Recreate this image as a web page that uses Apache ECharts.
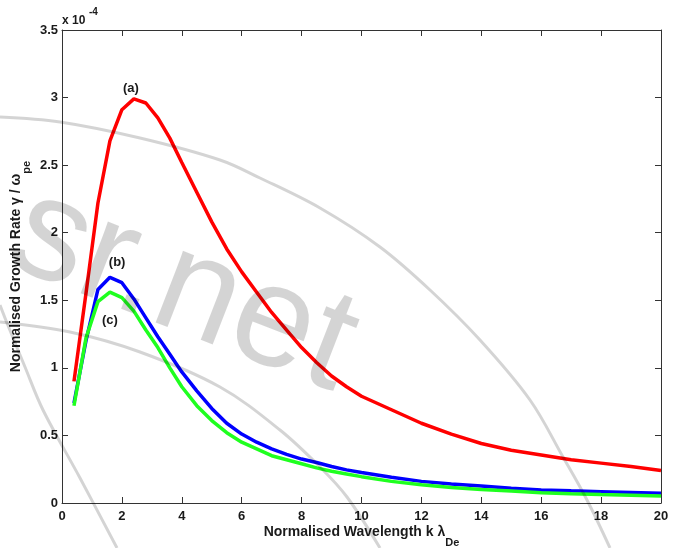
<!DOCTYPE html>
<html>
<head>
<meta charset="utf-8">
<script src="https://cdn.jsdelivr.net/npm/echarts@6/dist/echarts.min.js"></script>
<style>
  html, body { margin: 0; padding: 0; background: #fff; overflow: hidden; }
  #chart { width: 678px; height: 548px; }
</style>
</head>
<body>
<div id="chart"></div>
<script>
// Normalised wavelength k·λDe
const kValues = [0.4, 0.8, 1.2, 1.6, 2.0, 2.4, 2.8, 3.2, 3.6, 4.0, 4.5, 5.0, 5.5, 6.0, 6.5, 7.0, 7.5, 8.0, 8.5, 9.0, 9.5, 10, 11, 12, 13, 14, 15, 16, 17, 18, 19, 20];

// Normalised growth rate γ/ωpe (units of 1e-4)
const rateA = [0.90, 1.55, 2.22, 2.68, 2.91, 2.99, 2.96, 2.85, 2.70, 2.52, 2.30, 2.08, 1.88, 1.71, 1.56, 1.41, 1.28, 1.15, 1.04, 0.94, 0.86, 0.79, 0.69, 0.59, 0.51, 0.44, 0.39, 0.355, 0.32, 0.295, 0.27, 0.24];
const rateB = [0.74, 1.20, 1.58, 1.67, 1.63, 1.51, 1.37, 1.23, 1.10, 0.97, 0.83, 0.70, 0.59, 0.51, 0.45, 0.40, 0.36, 0.325, 0.30, 0.27, 0.245, 0.225, 0.19, 0.16, 0.14, 0.125, 0.11, 0.097, 0.09, 0.084, 0.078, 0.072];
const rateC = [0.72, 1.22, 1.49, 1.56, 1.52, 1.42, 1.28, 1.15, 1.00, 0.86, 0.72, 0.61, 0.52, 0.45, 0.40, 0.35, 0.32, 0.29, 0.26, 0.235, 0.215, 0.195, 0.16, 0.135, 0.115, 0.10, 0.088, 0.076, 0.068, 0.062, 0.057, 0.052];

// Curve tags and where they sit (data coordinates)
const curveTags = ['(a)', '(b)', '(c)'];
const tagPositions = [[2.30, 3.07], [1.84, 1.78], [1.60, 1.35]];
const curveColors = ['#ff0000', '#0000ff', '#1fff1f'];

const FONT = "'Liberation Sans', Arial, Helvetica, sans-serif";
const frameColor = '#333';

function zip(xs, ys) { return xs.map((x, i) => [x, ys[i]]); }

function frameAxis(extra) {
  return Object.assign({
    type: 'value',
    axisLine: { show: true, onZero: false, lineStyle: { color: frameColor, width: 1 } },
    axisTick: { show: true, inside: true, length: 6, lineStyle: { color: frameColor } },
    splitLine: { show: false },
    axisLabel: { show: false }
  }, extra);
}

const tickLabel = { show: true, color: '#1a1a1a', fontSize: 13, fontWeight: 'bold', fontFamily: FONT };

const chart = echarts.init(document.getElementById('chart'), null, { renderer: 'canvas', width: 678, height: 548 });

const seriesList = [rateA, rateB, rateC].map((vals, i) => ({
  type: 'line',
  xAxisIndex: 0,
  yAxisIndex: 0,
  data: zip(kValues, vals),
  smooth: false,
  symbol: 'none',
  lineStyle: { color: curveColors[i], width: 3.5 },
  z: 2 + i,
  markPoint: {
    symbol: 'circle',
    symbolSize: 1,
    itemStyle: { color: 'rgba(0,0,0,0)' },
    data: [{
      coord: tagPositions[i],
      label: {
        show: true, position: 'inside', formatter: curveTags[i],
        color: '#1a1a1a', fontSize: 13, fontWeight: 'bold', fontFamily: FONT
      }
    }]
  }
}));

// Faint background arcs and lettering
const arcStyle = { stroke: 'rgba(0,0,0,0.17)', lineWidth: 3, fill: null };
const arcs = [
  [[0,117],[60,122],[140,138],[220,160],[260,178],[320,208],[380,247],[430,290],[480,340],[530,400],[563,457],[587,500],[610,548]],
  [[0,322],[70,332],[140,352],[220,387],[280,430],[320,467],[347,497],[380,548]],
  [[0,305],[7,323],[25,367],[43,410],[80,478],[117,548]]
];

const option = {
  animation: false,
  backgroundColor: '#ffffff',
  grid: { left: 62, top: 30, width: 599, height: 473, containLabel: false, outerBoundsMode: 'none' },
  xAxis: [
    frameAxis({
      min: 0, max: 20, interval: 2, position: 'bottom',
      axisLabel: Object.assign({ margin: 7 }, tickLabel),
      name: '{t|Normalised Wavelength k λ}{sub|De}',
      nameLocation: 'middle',
      nameGap: 14,
      nameMoveOverlap: false,
      nameTextStyle: {
        rich: {
          t: { fontSize: 14, fontWeight: 'bold', color: '#1a1a1a', fontFamily: FONT },
          sub: { fontSize: 11, fontWeight: 'bold', color: '#1a1a1a', fontFamily: FONT, padding: [20, 0, 0, 0] }
        }
      }
    }),
    frameAxis({ min: 0, max: 20, interval: 2, position: 'top' })
  ],
  yAxis: [
    frameAxis({
      min: 0, max: 3.5, interval: 0.5, position: 'left',
      axisLabel: Object.assign({ margin: 4 }, tickLabel),
      name: '{t|Normalised Growth Rate γ / ω}{sub|pe}',
      nameLocation: 'middle',
      nameGap: 30,
      nameMoveOverlap: false,
      nameTextStyle: {
        rich: {
          t: { fontSize: 14, fontWeight: 'bold', color: '#1a1a1a', fontFamily: FONT },
          sub: { fontSize: 11, fontWeight: 'bold', color: '#1a1a1a', fontFamily: FONT, padding: [20, 0, 0, 0] }
        }
      }
    }),
    frameAxis({ min: 0, max: 3.5, interval: 0.5, position: 'right' })
  ],
  series: seriesList,
  graphic: [
    {
      type: 'text', left: 62, top: 15, silent: true,
      style: { text: 'x 10', font: "bold 12px " + FONT, fill: '#1a1a1a' }
    },
    {
      type: 'text', left: 89, top: 7, silent: true,
      style: { text: '-4', font: "bold 10px " + FONT, fill: '#1a1a1a' }
    },
    ...arcs.map(pts => ({
      type: 'polyline', silent: true, z: 100,
      shape: { points: pts, smooth: 0.35 },
      style: arcStyle
    })),
    {
      type: 'text', silent: true, z: 100,
      x: 18, y: 226, rotation: -0.37,
      style: {
        text: 'sr.net', font: "145px " + FONT,
        fill: 'rgba(0,0,0,0.17)',
        align: 'left', verticalAlign: 'middle',
        textAlign: 'left', textVerticalAlign: 'middle'
      }
    }
  ]
};

chart.setOption(option);
</script>
</body>
</html>
